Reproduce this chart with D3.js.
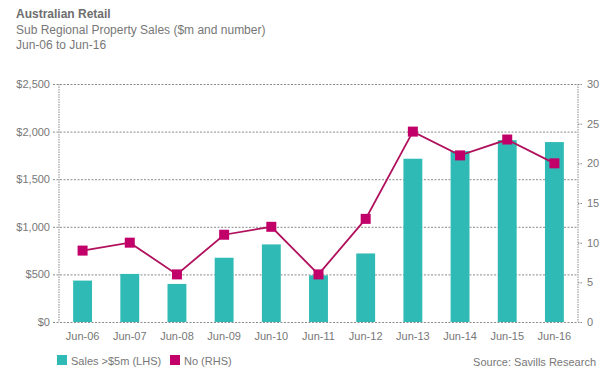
<!DOCTYPE html>
<html>
<head>
<meta charset="utf-8">
<script src="https://cdn.jsdelivr.net/npm/d3@7"></script>
<style>
  body { margin: 0; background: #fff; }
  svg { font-family: "Liberation Sans", Arial, sans-serif; }
</style>
</head>
<body>
<div id="chart"></div>
<script>
const categories = ["Jun-06", "Jun-07", "Jun-08", "Jun-09", "Jun-10", "Jun-11", "Jun-12", "Jun-13", "Jun-14", "Jun-15", "Jun-16"];
const salesValues = [435, 505, 400, 675, 815, 490, 720, 1715, 1795, 1910, 1890];
const countValues = [9, 10, 6, 11, 12, 6, 13, 24, 21, 23, 20];
const leftTicks = [0, 500, 1000, 1500, 2000, 2500];
const rightTicks = [0, 5, 10, 15, 20, 25, 30];

const width = 611;
const height = 376;

const margin = {
  left: 59,
  right: 33,
  top: 84,
  bottom: 54
};

const barColor = "#2fbab5";
const lineColor = "#b0105c";
const markerColor = "#c2006a";
const textColor = "#777777";
const gridColor = "#8a8a8a";

const svg = d3.select("#chart").append("svg")
  .attr("width", width)
  .attr("height", height);

// titles
svg.append("text")
  .attr("x", 16).attr("y", 18)
  .style("font-size", "12px")
  .style("font-weight", "bold")
  .attr("fill", "#6e6e6e")
  .text("Australian Retail");

svg.append("text")
  .attr("x", 16).attr("y", 34)
  .style("font-size", "12px")
  .attr("fill", "#777")
  .text("Sub Regional Property Sales ($m and number)");

svg.append("text")
  .attr("x", 16).attr("y", 49)
  .style("font-size", "12px")
  .attr("fill", "#777")
  .text("Jun-06 to Jun-16");

const xScale = d3.scaleBand()
  .domain(categories)
  .range([margin.left, width - margin.right])
  .paddingInner(0.6)
  .paddingOuter(0.3);

const yLeft = d3.scaleLinear()
  .domain([0, 2500])
  .range([height - margin.bottom, margin.top]);

const yRight = d3.scaleLinear()
  .domain([0, 30])
  .range([height - margin.bottom, margin.top]);

// left axis + grid
const leftAxis = svg.append("g")
  .attr("transform", "translate(" + margin.left + ",0)")
  .call(d3.axisLeft(yLeft)
    .tickValues(leftTicks)
    .tickSize(6)
    .tickPadding(3)
    .tickFormat(d => "$" + d3.format(",")(d)));

leftAxis.selectAll(".domain").remove();
leftAxis.selectAll(".tick line")
  .attr("x1", -6)
  .attr("x2", width - margin.right - margin.left)
  .attr("stroke", gridColor)
  .attr("stroke-dasharray", "2,1.5");
leftAxis.selectAll(".tick text")
  .attr("fill", textColor)
  .style("font-size", "11px")
  .style("font-family", "Liberation Sans, Arial, sans-serif");

// right axis
const rightAxis = svg.append("g")
  .attr("transform", "translate(" + (width - margin.right) + ",0)")
  .call(d3.axisRight(yRight)
    .tickValues(rightTicks)
    .tickSize(4)
    .tickPadding(5));

rightAxis.selectAll(".domain").remove();
rightAxis.selectAll(".tick line")
  .attr("stroke", gridColor)
  .attr("stroke-dasharray", "1.5,1");
rightAxis.selectAll(".tick text")
  .attr("fill", textColor)
  .style("font-size", "11px")
  .style("font-family", "Liberation Sans, Arial, sans-serif");

// vertical axis lines (dotted)
[margin.left, width - margin.right].forEach(xv => {
  svg.append("line")
    .attr("x1", xv).attr("x2", xv)
    .attr("y1", margin.top).attr("y2", height - margin.bottom)
    .attr("stroke", gridColor)
    .attr("stroke-dasharray", "1.5,1");
});

// bars
svg.selectAll(".bar")
  .data(salesValues)
  .join("rect")
    .attr("class", "bar")
    .attr("x", (d, i) => xScale(categories[i]))
    .attr("width", xScale.bandwidth())
    .attr("y", d => yLeft(d))
    .attr("height", d => yLeft(0) - yLeft(d))
    .attr("fill", barColor);

// x axis labels
const xAxis = svg.append("g")
  .attr("transform", "translate(0," + (height - margin.bottom) + ")")
  .call(d3.axisBottom(xScale).tickSize(0).tickPadding(10));
xAxis.selectAll(".domain").remove();
xAxis.selectAll(".tick text")
  .attr("fill", textColor)
  .style("font-size", "11px")
  .style("font-family", "Liberation Sans, Arial, sans-serif");

// line
const line = d3.line()
  .x((d, i) => xScale(categories[i]) + xScale.bandwidth() / 2)
  .y(d => yRight(d));

svg.append("path")
  .datum(countValues)
  .attr("fill", "none")
  .attr("stroke", lineColor)
  .attr("stroke-width", 1.8)
  .attr("d", line);

const ms = 10;
svg.selectAll(".marker")
  .data(countValues)
  .join("rect")
    .attr("class", "marker")
    .attr("x", (d, i) => xScale(categories[i]) + xScale.bandwidth() / 2 - ms / 2)
    .attr("y", d => yRight(d) - ms / 2)
    .attr("width", ms)
    .attr("height", ms)
    .attr("fill", markerColor);

// legend
const legend = svg.append("g").attr("transform", "translate(57,355)");
legend.append("rect").attr("x", 0).attr("y", 0).attr("width", 10).attr("height", 10).attr("fill", barColor);
legend.append("text").attr("x", 14).attr("y", 9.5)
  .style("font-size", "11px").attr("fill", textColor).text("Sales >$5m (LHS)");
legend.append("rect").attr("x", 113).attr("y", 0).attr("width", 10).attr("height", 10).attr("fill", markerColor);
legend.append("text").attr("x", 127).attr("y", 9.5)
  .style("font-size", "11px").attr("fill", textColor).text("No (RHS)");

svg.append("text")
  .attr("x", 596).attr("y", 366)
  .attr("text-anchor", "end")
  .style("font-size", "11px")
  .attr("fill", textColor)
  .text("Source: Savills Research");
</script>
</body>
</html>
